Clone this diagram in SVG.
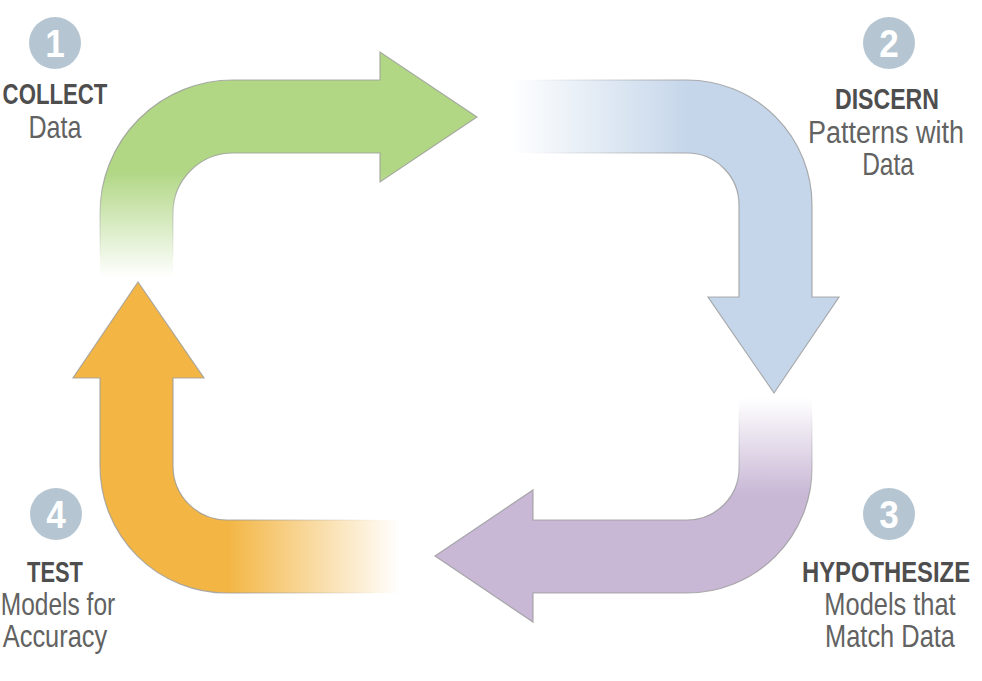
<svg xmlns="http://www.w3.org/2000/svg" width="982" height="681" viewBox="0 0 982 681">
<style>
.badge{fill:#b5c6d2}
.num{font-family:"Liberation Sans",Arial,sans-serif;font-weight:bold;font-size:39px;fill:#ffffff;text-anchor:middle}
.title{font-family:"Liberation Sans",Arial,sans-serif;font-weight:bold;font-size:30px;fill:#4e4e4e;text-anchor:middle}
.sub{font-family:"Liberation Sans",Arial,sans-serif;font-size:31px;fill:#626262;text-anchor:middle}
.arrow{stroke-width:1.2}
</style>
<defs>
<linearGradient id="gGreen" gradientUnits="userSpaceOnUse" x1="0" y1="277" x2="0" y2="172">
<stop offset="0" stop-color="#b1d785" stop-opacity="0"/>
<stop offset="1" stop-color="#b1d785" stop-opacity="1"/>
</linearGradient>
<linearGradient id="sGreen" gradientUnits="userSpaceOnUse" x1="0" y1="260" x2="0" y2="180">
<stop offset="0" stop-color="#9a9a9a" stop-opacity="0"/>
<stop offset="1" stop-color="#9a9a9a" stop-opacity="0.8"/>
</linearGradient>
<linearGradient id="gBlue" gradientUnits="userSpaceOnUse" x1="510" y1="0" x2="690" y2="0">
<stop offset="0" stop-color="#c5d6ea" stop-opacity="0"/>
<stop offset="1" stop-color="#c5d6ea" stop-opacity="1"/>
</linearGradient>
<linearGradient id="sBlue" gradientUnits="userSpaceOnUse" x1="530" y1="0" x2="680" y2="0">
<stop offset="0" stop-color="#9a9a9a" stop-opacity="0"/>
<stop offset="1" stop-color="#9a9a9a" stop-opacity="0.8"/>
</linearGradient>
<linearGradient id="gPurple" gradientUnits="userSpaceOnUse" x1="0" y1="398" x2="0" y2="495">
<stop offset="0" stop-color="#c8b7d5" stop-opacity="0"/>
<stop offset="1" stop-color="#c8b7d5" stop-opacity="1"/>
</linearGradient>
<linearGradient id="sPurple" gradientUnits="userSpaceOnUse" x1="0" y1="410" x2="0" y2="490">
<stop offset="0" stop-color="#9a9a9a" stop-opacity="0"/>
<stop offset="1" stop-color="#9a9a9a" stop-opacity="0.8"/>
</linearGradient>
<linearGradient id="gOrange" gradientUnits="userSpaceOnUse" x1="400" y1="0" x2="228" y2="0">
<stop offset="0" stop-color="#f3b645" stop-opacity="0"/>
<stop offset="1" stop-color="#f3b645" stop-opacity="1"/>
</linearGradient>
<linearGradient id="sOrange" gradientUnits="userSpaceOnUse" x1="380" y1="0" x2="240" y2="0">
<stop offset="0" stop-color="#9a9a9a" stop-opacity="0"/>
<stop offset="1" stop-color="#9a9a9a" stop-opacity="0.8"/>
</linearGradient>
</defs>
<rect width="982" height="681" fill="#ffffff"/>
<g id="connectors">
<path id="arrow-collect-discern" class="arrow" fill="url(#gGreen)" stroke="url(#sGreen)" d="M100 277 L100 213 A133 133 0 0 1 233 80 L380 80 L380 52 L477 117 L380 182 L380 153 L233 153 A60 60 0 0 0 173 213 L173 277 Z"/>
<path id="arrow-discern-hypothesize" class="arrow" fill="url(#gBlue)" stroke="url(#sBlue)" d="M510 80 L687 80 A125 125 0 0 1 812 205 L812 297 L839 297 L774 393 L708 297 L739 297 L739 205 A52 52 0 0 0 687 153 L510 153 Z"/>
<path id="arrow-hypothesize-test" class="arrow" fill="url(#gPurple)" stroke="url(#sPurple)" d="M739 398 L739 468 A52 52 0 0 1 687 520 L533 520 L533 490 L435 556 L533 622 L533 593 L687 593 A125 125 0 0 0 812 468 L812 398 Z"/>
<path id="arrow-test-collect" class="arrow" fill="url(#gOrange)" stroke="url(#sOrange)" d="M400 520 L227 520 A54 54 0 0 1 173 466 L173 378 L204 378 L138 282 L73 378 L100 378 L100 466 A127 127 0 0 0 227 593 L400 593 Z"/>
</g>
<g id="step1">
<circle class="badge" cx="55" cy="43" r="26"/>
<text class="num" transform="translate(55,57) scale(0.9,1)">1</text>
<text class="title" transform="translate(55,104) scale(0.74,1)">COLLECT</text>
<text class="sub" transform="translate(55,138) scale(0.81,1)">Data</text>
</g>
<g id="step2">
<circle class="badge" cx="889" cy="43" r="26"/>
<text class="num" transform="translate(889,57) scale(0.9,1)">2</text>
<text class="title" transform="translate(887,109) scale(0.77,1)">DISCERN</text>
<text class="sub" transform="translate(886,143) scale(0.87,1)">Patterns with</text>
<text class="sub" transform="translate(888,175) scale(0.79,1)">Data</text>
</g>
<g id="step3">
<circle class="badge" cx="889" cy="514" r="26"/>
<text class="num" transform="translate(889,528) scale(0.9,1)">3</text>
<text class="title" transform="translate(886,582) scale(0.794,1)">HYPOTHESIZE</text>
<text class="sub" transform="translate(890,615) scale(0.82,1)">Models that</text>
<text class="sub" transform="translate(890,647) scale(0.82,1)">Match Data</text>
</g>
<g id="step4">
<circle class="badge" cx="56" cy="514" r="26"/>
<text class="num" transform="translate(56,528) scale(0.9,1)">4</text>
<text class="title" transform="translate(55,582) scale(0.73,1)">TEST</text>
<text class="sub" transform="translate(58,615) scale(0.79,1)">Models for</text>
<text class="sub" transform="translate(55,647) scale(0.82,1)">Accuracy</text>
</g>
</svg>
